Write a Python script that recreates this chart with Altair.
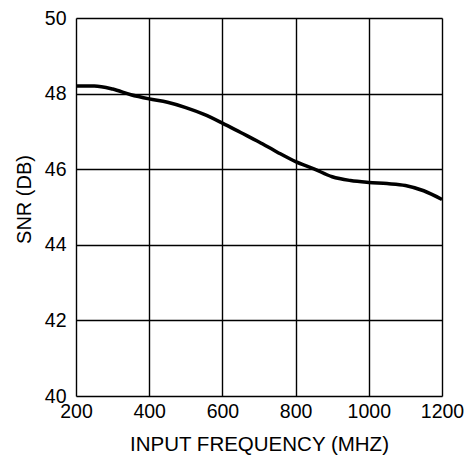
import altair as alt
import pandas as pd

freq = [200, 250, 300, 350, 400, 450, 500, 550, 600, 650, 700, 750, 800, 850, 900, 950, 1000, 1050, 1100, 1150, 1200]
snr = [48.20, 48.20, 48.12, 47.97, 47.86, 47.77, 47.63, 47.45, 47.22, 46.97, 46.72, 46.45, 46.20, 46.01, 45.80, 45.70, 45.65, 45.62, 45.57, 45.43, 45.20]

x_ticks = [200, 400, 600, 800, 1000, 1200]
y_ticks = [40, 42, 44, 46, 48, 50]

df = pd.DataFrame({"freq": freq, "snr": snr})

FONT = "Liberation Sans"

chart = alt.Chart(df).mark_line(
    color="black", strokeWidth=3.5, interpolate="monotone"
).encode(
    x=alt.X("freq:Q", scale=alt.Scale(domain=[200, 1200], nice=False),
            axis=alt.Axis(title="INPUT FREQUENCY (MHZ)", values=x_ticks, format="d",
                          grid=True, gridColor="black", gridWidth=1.4, gridOpacity=1,
                          domain=False, ticks=False, labelPadding=6,
                          labelFontSize=19.5, titleFontSize=20.5, labelFont=FONT, titleFont=FONT,
                          labelColor="black", titleColor="black", titleFontWeight="normal",
                          titlePadding=14, labelFlush=False)),
    y=alt.Y("snr:Q", scale=alt.Scale(domain=[40, 50], nice=False),
            axis=alt.Axis(title="SNR (DB)", values=y_ticks, format="d",
                          grid=True, gridColor="black", gridWidth=1.4, gridOpacity=1,
                          domain=False, ticks=False, labelPadding=10,
                          labelFontSize=19.5, titleFontSize=20, labelFont=FONT, titleFont=FONT,
                          labelColor="black", titleColor="black", titleFontWeight="normal",
                          titlePadding=10, titleY=181, labelFlush=False)),
).properties(
    width=366, height=378,
    autosize=alt.AutoSizeParams(type="none"),
    padding={"left": 68, "top": 10, "right": 22, "bottom": 60},
).configure_view(
    stroke="black", strokeWidth=2.5
).configure(background="white")

chart.save("out.html", embed_options={"renderer": "svg", "actions": False})
